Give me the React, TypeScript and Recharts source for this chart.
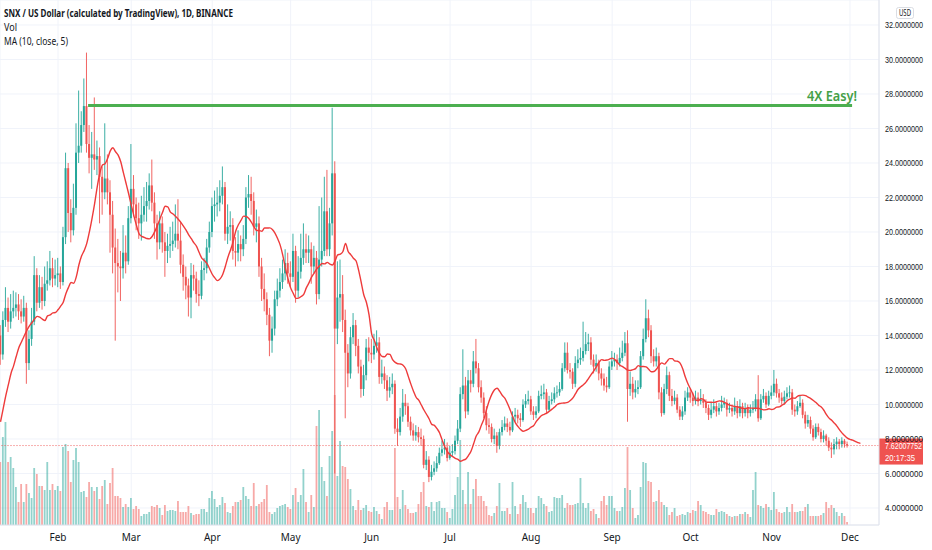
import React from 'react';
import { ComposedChart, Bar, Line, XAxis, YAxis, ReferenceLine, CartesianGrid } from 'recharts';

// ---- data (SNX/USD daily, Jan 10 -> Dec 1) ----
const PRE_CLOSE = [5.5, 6.0, 6.5, 7.5, 8.5, 9.5, 10.5, 11.5, 12.0, 12.5, 13.0, 13.5, 13.0, 14.0];

const CLOSE = [
  12.9, 14.9, 15.6, 14.8, 15.4, 15.6, 15.8, 15.4, 15.1, 15.6,
  12.4, 13.8, 14.8, 17.5, 15.9, 16.8, 16.0, 17.0, 17.2, 17.9,
  17.3, 17.5, 17.6, 17.1, 19.7, 23.7, 21.1, 20.1, 21.4, 24.6,
  25.0, 26.2, 27.3, 25.1, 24.3, 24.5, 24.2, 24.4, 23.2, 22.3,
  23.1, 22.3, 21.0, 19.1, 18.2, 18.0, 17.9, 18.8, 18.3, 20.8,
  22.5, 21.6, 20.8, 20.5, 21.0, 21.5, 21.8, 22.7, 21.7, 20.5,
  19.4, 20.5, 19.4, 18.9, 19.2, 19.3, 19.5, 19.9, 19.5, 18.1,
  17.4, 16.9, 16.2, 17.5, 17.3, 16.4, 16.3, 17.8, 17.9, 19.1,
  20.0, 21.5, 21.6, 21.7, 22.1, 22.6, 19.9, 20.3, 20.4, 18.9,
  18.8, 19.3, 19.0, 19.6, 22.0, 22.2, 21.8, 20.3, 20.5, 18.0,
  16.7, 16.1, 15.2, 13.7, 14.4, 16.1, 16.6, 17.1, 17.6, 18.2,
  17.6, 17.4, 18.9, 16.6, 17.7, 18.5, 19.0, 18.8, 19.0, 18.0,
  18.5, 16.4, 18.4, 18.9, 21.2, 19.0, 20.5, 23.4, 14.4, 16.2,
  16.4, 14.9, 13.0, 11.8, 13.9, 14.6, 13.4, 12.2, 10.9, 11.7,
  13.3, 13.0, 12.9, 13.4, 13.6, 11.6, 11.8, 11.4, 10.8, 11.0,
  11.2, 8.6, 8.4, 9.3, 10.1, 9.9, 9.0, 8.5, 8.2, 8.4,
  8.1, 8.0, 6.5, 6.8, 5.8, 6.1, 6.3, 6.6, 7.2, 7.4,
  7.5, 6.9, 7.2, 7.3, 7.9, 8.6, 10.6, 11.1, 9.6, 11.4,
  11.2, 12.5, 12.1, 11.0, 10.4, 9.5, 8.8, 8.7, 8.0, 8.2,
  7.6, 8.4, 8.7, 8.9, 8.7, 8.5, 9.3, 9.4, 9.2, 9.1,
  10.0, 10.2, 10.3, 9.6, 9.4, 9.6, 10.5, 10.6, 10.7, 9.7,
  10.2, 10.3, 10.65, 10.7, 10.9, 12.1, 13.0, 12.0, 11.9, 11.2,
  12.4, 12.6, 12.7, 13.1, 13.5, 13.6, 12.6, 12.2, 12.4, 11.8,
  11.5, 11.1, 11.0, 12.2, 12.5, 12.6, 12.4, 12.7, 13.0, 13.55,
  10.9, 11.2, 10.7, 10.9, 11.0, 12.8, 13.8, 15.0, 14.3, 12.8,
  12.5, 12.8, 10.7, 9.5, 10.9, 11.7, 10.5, 10.2, 10.4, 9.7,
  9.3, 9.6, 10.4, 10.7, 10.4, 10.2, 10.4, 10.2, 10.3, 10.1,
  9.8, 9.4, 9.7, 9.9, 9.6, 9.8, 10.0, 10.1, 9.7, 9.8,
  9.6, 9.9, 9.5, 9.9, 9.5, 9.8, 9.5, 9.7, 9.8, 10.3,
  9.2, 10.3, 10.5, 10.0, 10.5, 10.7, 11.2, 10.65, 10.4, 10.2,
  10.45, 10.65, 10.7, 9.7, 9.6, 9.9, 10.1, 9.4, 8.9, 9.1,
  8.6, 8.1, 8.7, 8.4, 8.0, 8.2, 7.9, 7.5, 7.4, 7.7,
  7.85, 7.7, 7.9, 7.7, 7.62,
];

const HIGH = [
  14.6, 15.4, 16.8, 16.2, 16.4, 16.6, 16.5, 16.4, 16.1, 16.3,
  15.9, 14.3, 15.6, 18.6, 17.9, 17.5, 17.4, 18.0, 18.3, 18.9,
  18.5, 18.4, 18.5, 18.0, 20.3, 24.6, 24.0, 21.9, 22.8, 26.3,
  28.2, 27.0, 28.9, 30.4, 26.2, 25.8, 27.8, 25.3, 24.9, 23.8,
  26.3, 24.5, 23.0, 21.8, 20.2, 19.6, 18.9, 20.4, 19.8, 21.5,
  25.1, 23.3, 22.0, 21.7, 22.1, 22.6, 22.9, 23.4, 24.2, 22.3,
  21.0, 21.2, 20.9, 20.0, 19.9, 20.3, 20.6, 21.6, 21.9, 20.6,
  18.7, 18.0, 17.3, 18.2, 18.1, 17.7, 17.2, 18.3, 18.5, 19.6,
  20.6, 22.0, 22.4, 22.6, 23.0, 23.8, 22.9, 21.6, 21.2, 20.8,
  19.7, 20.1, 19.8, 20.4, 22.6, 23.3, 23.2, 22.3, 21.3, 20.9,
  18.5, 17.6, 16.5, 15.6, 15.1, 16.6, 17.3, 17.9, 18.4, 19.0,
  18.8, 18.3, 19.9, 19.2, 18.6, 19.9, 20.5, 19.9, 19.8, 19.4,
  19.2, 18.9, 21.5, 22.0, 23.2, 23.6, 21.4, 27.2, 24.1, 18.3,
  18.4, 17.5, 15.5, 13.5, 14.5, 15.3, 14.9, 13.8, 12.6, 12.3,
  13.8, 13.9, 13.8, 14.1, 14.3, 13.9, 12.6, 12.2, 11.7, 11.6,
  11.8, 11.4, 9.2, 9.8, 10.9, 10.6, 10.1, 9.3, 8.9, 8.8,
  8.7, 8.6, 8.2, 7.3, 7.0, 6.5, 6.7, 7.0, 7.5, 7.9,
  8.0, 7.8, 7.6, 7.7, 8.2, 9.1, 11.0, 13.2, 11.6, 12.0,
  12.0, 13.1, 13.8, 12.4, 11.4, 10.7, 9.9, 9.2, 8.9, 8.6,
  8.4, 8.6, 9.1, 9.3, 9.2, 9.0, 9.6, 9.8, 9.7, 9.5,
  10.3, 10.6, 10.8, 10.5, 9.9, 9.9, 10.8, 11.1, 11.2, 10.9,
  10.5, 10.7, 11.0, 11.1, 11.3, 12.4, 13.6, 13.6, 12.4, 12.1,
  12.8, 13.2, 13.3, 14.8, 14.2, 14.1, 13.9, 12.9, 12.9, 12.6,
  12.1, 11.8, 11.6, 12.5, 13.1, 13.0, 12.9, 13.3, 13.7, 14.2,
  14.3, 11.9, 11.6, 11.4, 11.4, 13.1, 14.4, 16.1, 15.5, 14.6,
  13.2, 13.3, 13.0, 11.0, 11.2, 12.2, 11.9, 10.9, 10.8, 10.6,
  9.9, 9.9, 10.8, 11.0, 10.9, 10.7, 10.8, 10.7, 10.9, 10.6,
  10.3, 10.0, 10.1, 10.3, 10.1, 10.1, 10.5, 10.4, 10.3, 10.1,
  10.0, 10.4, 10.2, 10.3, 10.1, 10.1, 10.0, 10.0, 10.2, 10.6,
  11.7, 10.6, 10.9, 10.7, 10.8, 11.1, 12.0, 11.5, 10.9, 10.7,
  10.8, 11.0, 11.1, 10.9, 10.0, 10.2, 10.5, 10.3, 9.6, 9.4,
  9.3, 8.8, 8.9, 8.9, 8.6, 8.5, 8.3, 8.1, 7.8, 8.0,
  8.1, 8.0, 8.1, 8.0, 7.85,
];

const LOW = [
  12.3, 12.6, 14.5, 14.2, 14.4, 15.0, 15.1, 14.9, 14.7, 14.8,
  11.2, 12.0, 13.4, 14.6, 15.4, 15.6, 15.5, 15.7, 16.6, 16.9,
  16.8, 16.9, 16.8, 16.7, 16.9, 19.3, 20.0, 19.4, 19.8, 21.0,
  24.0, 24.6, 25.8, 24.6, 23.4, 22.5, 23.6, 23.3, 20.5, 21.0,
  21.9, 21.6, 18.8, 17.6, 13.7, 16.5, 16.0, 17.3, 17.6, 18.1,
  20.5, 20.9, 20.1, 19.6, 19.5, 20.6, 20.6, 21.3, 21.2, 19.6,
  18.4, 19.0, 18.8, 17.4, 18.2, 18.5, 18.9, 19.1, 19.0, 17.6,
  16.6, 16.1, 15.1, 15.0, 16.6, 15.9, 15.7, 16.1, 17.2, 17.6,
  18.8, 19.7, 20.6, 20.9, 21.2, 21.6, 19.5, 19.3, 19.5, 18.4,
  18.0, 18.3, 18.3, 18.6, 19.3, 21.4, 21.0, 19.8, 19.4, 17.4,
  16.0, 15.4, 14.6, 12.8, 13.0, 14.0, 15.7, 16.2, 16.7, 17.2,
  17.0, 16.8, 17.1, 15.9, 16.2, 17.3, 18.1, 18.2, 18.2, 17.0,
  17.6, 15.8, 16.1, 18.0, 18.6, 18.6, 18.6, 19.8, 6.0, 13.5,
  14.8, 14.2, 9.2, 11.0, 11.5, 13.5, 12.8, 11.8, 10.4, 10.5,
  11.4, 12.5, 12.4, 12.6, 13.0, 11.2, 11.2, 10.9, 10.2, 10.4,
  10.6, 8.3, 7.6, 8.2, 9.0, 9.4, 8.7, 8.2, 7.9, 7.9,
  7.8, 7.6, 6.3, 6.2, 5.5, 5.6, 5.9, 6.1, 6.5, 7.0,
  7.1, 6.7, 6.8, 7.0, 7.1, 7.7, 8.4, 10.3, 9.2, 9.4,
  10.7, 11.0, 11.8, 10.7, 10.1, 9.2, 8.5, 8.3, 7.8, 7.7,
  7.2, 7.4, 8.2, 8.5, 8.4, 8.2, 8.4, 9.0, 8.9, 8.7,
  9.0, 9.8, 10.0, 9.4, 9.1, 9.2, 9.5, 10.3, 10.3, 9.5,
  9.6, 10.0, 10.1, 10.4, 10.5, 10.8, 11.9, 11.8, 11.5, 10.9,
  11.0, 12.1, 12.3, 12.5, 12.9, 13.1, 12.3, 11.8, 11.9, 11.4,
  11.1, 10.8, 10.7, 10.9, 12.0, 12.2, 12.0, 12.2, 12.5, 12.8,
  9.0, 10.5, 10.3, 10.4, 10.6, 10.9, 12.6, 13.6, 13.9, 12.4,
  12.2, 12.2, 10.3, 9.3, 9.4, 10.6, 10.2, 9.9, 10.0, 9.5,
  9.1, 9.1, 9.4, 10.2, 10.1, 9.9, 10.0, 9.9, 10.0, 9.8,
  9.5, 9.1, 9.2, 9.5, 9.3, 9.4, 9.6, 9.8, 9.3, 9.5,
  9.3, 9.4, 9.2, 9.3, 9.2, 9.3, 9.2, 9.3, 9.5, 9.6,
  9.0, 9.1, 10.1, 9.8, 9.9, 10.3, 10.5, 10.4, 10.1, 10.0,
  10.0, 10.3, 10.4, 9.4, 9.3, 9.4, 9.8, 9.2, 8.6, 8.7,
  8.3, 7.9, 8.0, 8.2, 7.8, 7.8, 7.6, 7.3, 6.9, 7.1,
  7.4, 7.4, 7.5, 7.5, 7.5,
];

const VOLUME = [
  63, 88, 103, 63, 68, 57, 38, 23, 41, 23,
  41, 32, 27, 57, 51, 39, 39, 35, 63, 35,
  41, 35, 39, 34, 78, 81, 74, 43, 65, 77,
  63, 33, 34, 28, 43, 38, 34, 38, 26, 39,
  45, 21, 42, 57, 29, 29, 27, 18, 21, 18,
  27, 16, 19, 16, 9, 11, 11, 13, 19, 18,
  20, 17, 10, 20, 14, 15, 15, 14, 24, 13,
  13, 13, 19, 12, 10, 11, 11, 16, 16, 13,
  27, 34, 26, 18, 20, 28, 22, 13, 12, 19,
  23, 23, 25, 38, 29, 26, 19, 42, 19, 21,
  23, 26, 40, 13, 11, 13, 17, 19, 20, 21,
  18, 16, 30, 37, 23, 30, 56, 23, 13, 30,
  18, 99, 115, 58, 44, 29, 69, 94, 130, 49,
  84, 59, 58, 46, 36, 19, 15, 25, 15, 17,
  20, 14, 13, 18, 14, 11, 6, 18, 23, 15,
  15, 77, 28, 16, 35, 20, 16, 12, 12, 13,
  21, 33, 43, 19, 18, 23, 14, 23, 24, 17,
  17, 13, 7, 16, 30, 48, 85, 35, 21, 53,
  21, 36, 46, 29, 29, 24, 19, 10, 9, 12,
  19, 42, 14, 14, 17, 11, 43, 19, 11, 21,
  30, 23, 17, 17, 12, 17, 29, 27, 21, 19,
  13, 14, 28, 27, 27, 30, 17, 22, 20, 20,
  21, 22, 47, 22, 17, 22, 14, 16, 11, 7,
  24, 29, 20, 29, 29, 17, 14, 14, 18, 37,
  78, 35, 17, 7, 10, 38, 63, 62, 44, 43,
  23, 24, 35, 23, 20, 18, 10, 13, 17, 9,
  10, 11, 10, 13, 12, 15, 14, 24, 20, 14,
  13, 11, 10, 10, 16, 13, 14, 13, 11, 9,
  8, 9, 9, 11, 11, 13, 11, 8, 35, 53,
  20, 19, 17, 21, 18, 15, 33, 16, 13, 12,
  13, 18, 13, 21, 13, 13, 14, 14, 18, 21,
  9, 9, 9, 9, 10, 12, 23, 17, 20, 17,
  13, 9, 12, 9, 3,
];

const MONTH_TICKS = [22, 50, 81, 111, 142, 172, 203, 234, 264, 295, 325];
const MONTH_LABELS = ['Feb', 'Mar', 'Apr', 'May', 'Jun', 'Jul', 'Aug', 'Sep', 'Oct', 'Nov', 'Dec'];
const PRICE_TICKS = [4, 6, 8, 10, 12, 14, 16, 18, 20, 22, 24, 26, 28, 30, 32];

const MA_LEN = 10;
const MA_OFFSET = 5;
const LAST_PRICE = 7.62007752;
const LAST_PRICE_TEXT = '7.62007752';
const COUNTDOWN = '20:17:35';
const TARGET_PRICE = 27.33;
const TARGET_FROM = 33.5;
const TARGET_TO = 325.8;
const TARGET_TEXT = '4X Easy!';

// ---- styles ----
const W = 932;
const H = 550;
const UP = '#26a69a';
const DOWN = '#ef5350';
const UP_VOL = 'rgba(38,166,154,0.5)';
const DOWN_VOL = 'rgba(239,83,80,0.5)';
const FONT = "'Noto Sans', Roboto, sans-serif";
const SCALE_FONT = "'Liberation Sans', Arial, sans-serif";

const allCloses = [...PRE_CLOSE, ...CLOSE];
const data: any[] = [];
for (let i = 0; i < CLOSE.length + MA_OFFSET; i++) {
  const win = allCloses.slice(i, i + MA_LEN);
  const ma = win.length === MA_LEN ? win.reduce((a, b) => a + b, 0) / MA_LEN : null;
  if (i < CLOSE.length) {
    const open = i === 0 ? PRE_CLOSE[PRE_CLOSE.length - 1] : CLOSE[i - 1];
    data.push({
      i,
      open,
      close: CLOSE[i],
      high: HIGH[i],
      low: LOW[i],
      range: [LOW[i], HIGH[i]],
      vol: VOLUME[i],
      ma,
    });
  } else {
    data.push({ i, ma });
  }
}

const Candle = (props: any) => {
  const { x, y, width, height, payload } = props;
  if (!payload || payload.open == null || height == null) return null;
  const { open, close, high, low } = payload;
  const top = Math.min(y, y + height);
  const h = Math.abs(height);
  const k = h / (high - low);
  const yv = (v: number) => top + (high - v) * k;
  const cx = x + width / 2;
  const color = close >= open ? UP : DOWN;
  const bt = yv(Math.max(open, close));
  const bb = yv(Math.min(open, close));
  return (
    <g>
      <line x1={cx} x2={cx} y1={top} y2={top + h} stroke={color} strokeWidth={0.9} />
      <rect x={cx - 1} y={bt} width={2} height={Math.max(bb - bt, 0.8)} fill={color} />
    </g>
  );
};

const VolBar = (props: any) => {
  const { x, y, width, height, payload } = props;
  if (!payload || payload.vol == null || height == null) return null;
  const cx = x + width / 2;
  return (
    <rect
      x={cx - 0.9}
      y={Math.min(y, y + height)}
      width={1.8}
      height={Math.abs(height)}
      fill={payload.close >= payload.open ? UP_VOL : DOWN_VOL}
    />
  );
};

const PriceTick = (props: any) => {
  const { x, y, payload } = props;
  return (
    <text
      x={x - 1}
      y={y + 3.5}
      fontFamily={SCALE_FONT}
      fontSize={8.8}
      fill="#131722"
      textAnchor="start"
      textLength={38}
      lengthAdjust="spacingAndGlyphs"
    >
      {Number(payload.value).toFixed(7)}
    </text>
  );
};

const TimeTick = (props: any) => {
  const { x, y, payload } = props;
  const idx = MONTH_TICKS.indexOf(payload.value);
  return (
    <text x={x} y={y + 16} fontFamily={FONT} fontSize={10} fill="#131722" textAnchor="middle">
      {MONTH_LABELS[idx]}
    </text>
  );
};

const TargetLabel = (props: any) => {
  const vb = props.viewBox || {};
  const right = (vb.x ?? 0) + (vb.width ?? 0);
  return (
    <text
      x={right + 5}
      y={(vb.y ?? 0) - 5}
      fontFamily={FONT}
      fontSize={15}
      fontWeight={600}
      fill="#43a047"
      textAnchor="end"
      textLength={50}
      lengthAdjust="spacingAndGlyphs"
    >
      {TARGET_TEXT}
    </text>
  );
};

const PriceTag = (props: any) => {
  const vb = props.viewBox || {};
  const left = (vb.x ?? 0) + (vb.width ?? 0);
  const yy = vb.y ?? 0;
  return (
    <g>
      <rect x={left} y={yy - 7} width={44} height={26} fill="#ef5350" />
      <text
        x={left + 6}
        y={yy + 3.5}
        fontFamily={SCALE_FONT}
        fontSize={8.8}
        fill="#ffffff"
        textLength={37}
        lengthAdjust="spacingAndGlyphs"
      >
        {LAST_PRICE_TEXT}
      </text>
      <text
        x={left + 6}
        y={yy + 15.5}
        fontFamily={SCALE_FONT}
        fontSize={8.8}
        fill="#ffffff"
        textLength={30}
        lengthAdjust="spacingAndGlyphs"
      >
        {COUNTDOWN}
      </text>
    </g>
  );
};

export default function App() {
  return (
    <div style={{ position: 'relative', width: W, height: H, background: '#ffffff' }}>
      <style>{'body{margin:0;background:#fff;}'}</style>
      <ComposedChart
        width={W}
        height={H}
        data={data}
        margin={{ top: 0, right: 0, bottom: 0, left: 0 }}
        barGap={-2}
      >
        <CartesianGrid yAxisId="price" stroke="#f0f3fa" strokeWidth={1} />
        <XAxis
          dataKey="i"
          type="number"
          domain={[-0.2, 336.1]}
          allowDataOverflow
          ticks={MONTH_TICKS}
          interval={0}
          height={25}
          tickSize={0}
          tickMargin={0}
          tickLine={false}
          axisLine={{ stroke: '#e0e3eb' }}
          tick={<TimeTick />}
        />
        <YAxis
          yAxisId="price"
          orientation="right"
          width={53}
          type="number"
          domain={[3.014, 33.449]}
          allowDataOverflow
          ticks={PRICE_TICKS}
          interval={0}
          tickSize={0}
          tickMargin={7}
          tickLine={false}
          axisLine={{ stroke: '#e0e3eb' }}
          tick={<PriceTick />}
        />
        <YAxis yAxisId="vol" hide domain={[0, 525]} allowDataOverflow />
        <Bar yAxisId="vol" dataKey="vol" barSize={2} shape={<VolBar />} isAnimationActive={false} />
        <Bar yAxisId="price" dataKey="range" barSize={2} shape={<Candle />} isAnimationActive={false} />
        <Line
          yAxisId="price"
          type="monotone"
          dataKey="ma"
          stroke="#ee3b3b"
          strokeWidth={1.4}
          dot={false}
          activeDot={false}
          isAnimationActive={false}
        />
        <ReferenceLine
          yAxisId="price"
          y={LAST_PRICE}
          stroke="#ef5350"
          strokeOpacity={0.45}
          strokeDasharray="2 1"
          label={<PriceTag />}
        />
        <ReferenceLine
          yAxisId="price"
          segment={[
            { x: TARGET_FROM, y: TARGET_PRICE },
            { x: TARGET_TO, y: TARGET_PRICE },
          ]}
          stroke="#4caf50"
          strokeWidth={3}
          label={<TargetLabel />}
        />
      </ComposedChart>
      <svg
        width={W}
        height={H}
        style={{ position: 'absolute', left: 0, top: 0, pointerEvents: 'none' }}
      >
        <text x={4} y={17} fontFamily={FONT} fontSize={10} fontWeight={700} fill="#131722" textLength={229} lengthAdjust="spacingAndGlyphs">
          SNX / US Dollar (calculated by TradingView), 1D, BINANCE
        </text>
        <text x={4} y={31} fontFamily={FONT} fontSize={10} fill="#131722" textLength={13} lengthAdjust="spacingAndGlyphs">
          Vol
        </text>
        <text x={4} y={45} fontFamily={FONT} fontSize={10} fill="#131722" textLength={64} lengthAdjust="spacingAndGlyphs">
          MA (10, close, 5)
        </text>
        <rect x={896.5} y={7.5} width={17} height={11} rx={2} fill="#ffffff" stroke="#d1d4dc" strokeWidth={0.8} />
        <text x={905} y={16} fontFamily={FONT} fontSize={8} fill="#131722" textAnchor="middle" textLength={12} lengthAdjust="spacingAndGlyphs">
          USD
        </text>
      </svg>
    </div>
  );
}
